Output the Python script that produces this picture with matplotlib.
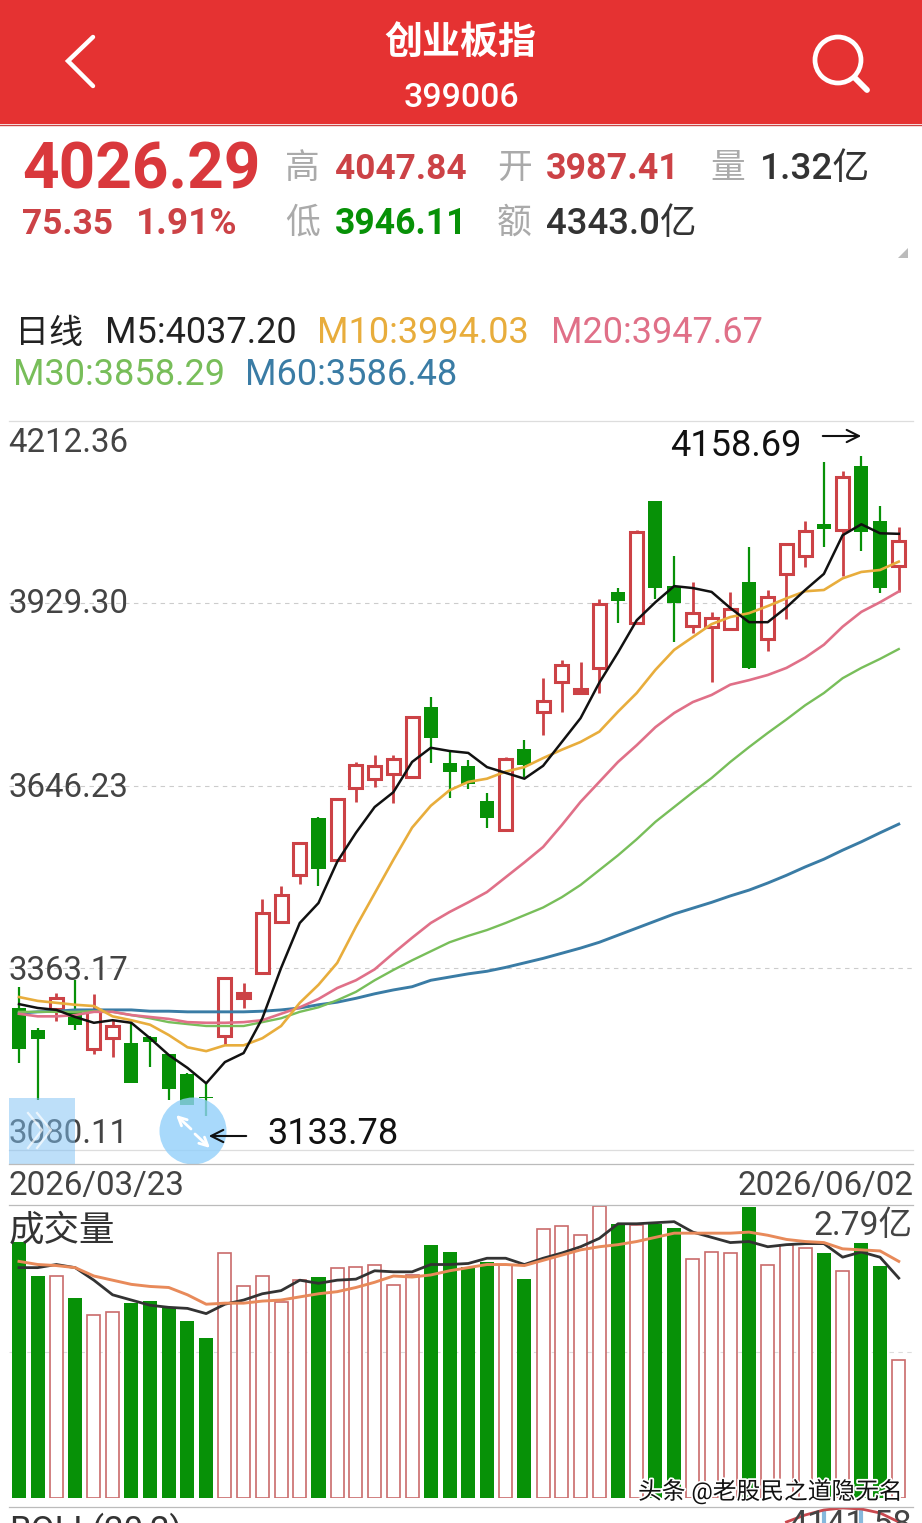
#-*- coding:utf-8
import matplotlib
matplotlib.use('Agg')
import matplotlib.pyplot as plt
from matplotlib.patches import Rectangle, Circle, Polygon
import matplotlib.patheffects as pe

plt.rcParams['font.family'] = ['Roboto', 'Noto Sans CJK SC', 'DejaVu Sans']

W, H = 922, 1523

# daily candles, 2026/03/23 .. 2026/06/02
opens = [3301.0, 3266.8, 3299.4, 3299.4, 3237.3, 3254.4, 3246.6, 3255.9, 3229.5, 3198.5, 3162.8, 3257.5,
         3316.5, 3355.3, 3434.5, 3507.5, 3596.0, 3530.8, 3642.6, 3656.5, 3664.3, 3659.6, 3768.3, 3681.4,
         3676.7, 3622.4, 3577.3, 3703.1, 3760.6, 3807.1, 3790.0, 3828.9, 3946.9, 3898.8, 4088.2, 3956.2,
         3894.1, 3892.5, 3889.4, 3962.4, 3873.9, 3974.8, 4002.8, 4052.5, 4043.2, 4142.5, 4057.1, 3987.41]
closes = [3237.3, 3252.8, 3316.5, 3274.6, 3297.9, 3273.0, 3184.5, 3248.2, 3175.2, 3150.4, 3161.2, 3347.5,
          3324.3, 3448.4, 3476.4, 3557.2, 3516.8, 3625.5, 3678.3, 3676.7, 3687.6, 3752.8, 3720.2, 3667.4,
          3648.8, 3596.0, 3687.6, 3678.3, 3777.6, 3833.5, 3796.3, 3928.3, 3932.9, 4040.0, 3953.1, 3929.8,
          3914.3, 3906.5, 3920.5, 3828.9, 3939.1, 4021.4, 4041.6, 4044.7, 4125.4, 4040.0, 3953.1, 4026.29]
highs = [3333.6, 3269.9, 3324.3, 3344.4, 3322.7, 3282.3, 3277.7, 3257.5, 3229.5, 3200.0, 3184.5, 3347.5,
         3339.8, 3470.2, 3490.4, 3558.7, 3597.5, 3627.0, 3682.9, 3693.8, 3693.8, 3752.8, 3783.9, 3698.5,
         3686.0, 3634.8, 3690.7, 3717.1, 3813.4, 3841.3, 3838.2, 3936.0, 3953.1, 4043.2, 4088.2, 4002.8,
         3962.4, 3915.8, 3946.9, 4016.8, 3950.0, 4021.4, 4057.1, 4148.7, 4134.7, 4158.69, 4080.4, 4047.84]
lows = [3215.6, 3158.1, 3280.8, 3266.8, 3229.5, 3224.9, 3184.5, 3209.4, 3158.1, 3150.4, 3133.78, 3243.5,
        3301.0, 3355.3, 3434.5, 3493.5, 3490.4, 3530.8, 3620.8, 3644.1, 3619.3, 3659.6, 3681.4, 3627.0,
        3641.0, 3580.4, 3577.3, 3659.6, 3724.9, 3760.6, 3790.0, 3790.0, 3898.8, 3898.8, 3936.0, 3869.3,
        3883.2, 3807.1, 3887.9, 3827.3, 3855.3, 3905.0, 3985.7, 4016.8, 3971.7, 4010.5, 3945.3, 3946.11]

m5 = [3307, 3301, 3298, 3287, 3278, 3282, 3278, 3254, 3228, 3208, 3184, 3217, 3231, 3285, 3363, 3433,
      3464, 3528, 3573, 3613, 3636, 3683, 3705, 3700, 3697, 3675, 3666, 3657, 3677, 3714, 3751, 3806,
      3853, 3903, 3931, 3956, 3953, 3947, 3922, 3900, 3900, 3923, 3950, 3975, 4035, 4052, 4038, 4037.2]
m10 = [3318, 3312, 3309, 3306, 3304, 3288, 3282, 3275, 3259, 3240, 3234, 3243, 3243, 3254, 3273, 3309,
       3337, 3371, 3427, 3479, 3531, 3581, 3615, 3639, 3652, 3657, 3668, 3675, 3689, 3702, 3714, 3730,
       3761, 3790, 3826, 3857, 3877, 3897, 3908, 3914, 3925, 3937, 3948, 3950, 3968, 3978, 3981, 3994.03]
m20 = [3292, 3288, 3288, 3290, 3295, 3295, 3290, 3287, 3284, 3279, 3278, 3278, 3279, 3282, 3292, 3302,
       3315, 3332, 3344, 3361, 3386, 3410, 3433, 3450, 3465, 3481, 3504, 3527, 3551, 3585, 3621, 3652,
       3683, 3709, 3737, 3759, 3776, 3787, 3803, 3810, 3818, 3829, 3845, 3865, 3893, 3916, 3931, 3947.67]
m30 = [3295, 3295, 3295, 3295, 3296, 3295, 3290, 3285, 3279, 3276, 3273, 3273, 3273, 3279, 3285, 3295,
       3302, 3313, 3326, 3344, 3360, 3375, 3389, 3403, 3413, 3422, 3433, 3445, 3457, 3473, 3492, 3515,
       3538, 3563, 3590, 3613, 3636, 3658, 3683, 3706, 3728, 3749, 3771, 3790, 3813, 3829, 3843, 3858.29]
m60 = [3293, 3295, 3296, 3298, 3298, 3298, 3298, 3296, 3296, 3295, 3295, 3295, 3295, 3296, 3298, 3301,
       3306, 3310, 3316, 3323, 3329, 3334, 3344, 3349, 3354, 3358, 3364, 3371, 3378, 3386, 3394, 3403,
       3414, 3425, 3436, 3447, 3456, 3465, 3475, 3484, 3495, 3507, 3520, 3532, 3546, 3559, 3573, 3586.48]

# volume, unit 亿
volumes = [2.45, 2.12, 2.12, 1.91, 1.75, 1.78, 1.86, 1.88, 1.82, 1.69, 1.53, 2.34, 2.02, 2.12, 1.87, 2.08,
           2.11, 2.20, 2.21, 2.23, 2.03, 2.13, 2.42, 2.35, 2.21, 2.25, 2.23, 2.09, 2.57, 2.60, 2.51, 2.79,
           2.62, 2.61, 2.62, 2.58, 2.28, 2.35, 2.34, 2.78, 2.23, 2.42, 2.39, 2.34, 2.17, 2.44, 2.22, 1.32]
vol_ma5 = [2.20, 2.20, 2.23, 2.20, 2.08, 1.94, 1.89, 1.84, 1.82, 1.81, 1.76, 1.85, 1.89, 1.95, 1.98, 2.08,
           2.05, 2.08, 2.09, 2.17, 2.16, 2.16, 2.23, 2.23, 2.24, 2.29, 2.29, 2.23, 2.29, 2.34, 2.40, 2.48,
           2.62, 2.62, 2.63, 2.64, 2.54, 2.49, 2.44, 2.45, 2.40, 2.42, 2.43, 2.43, 2.30, 2.35, 2.30, 2.10]
vol_ma10 = [2.26, 2.23, 2.22, 2.20, 2.12, 2.08, 2.04, 2.02, 2.01, 1.94, 1.85, 1.86, 1.86, 1.88, 1.89, 1.92,
            1.95, 1.97, 2.01, 2.06, 2.12, 2.11, 2.13, 2.17, 2.20, 2.23, 2.23, 2.22, 2.27, 2.32, 2.37, 2.40,
            2.42, 2.45, 2.49, 2.53, 2.53, 2.53, 2.53, 2.54, 2.51, 2.47, 2.45, 2.44, 2.38, 2.37, 2.36, 2.26]

# BOLL panel is cut off by the screenshot, only the upper band tip shows
boll_idx = [41, 42, 43, 44, 45, 46, 47]
boll_upper = [4117.6, 4128.8, 4136.8, 4140.0, 4138.4, 4132.0, 4117.6]

price_ticks = [4212.36, 3929.30, 3646.23, 3363.17, 3080.11]
price_labels = ['4212.36', '3929.30', '3646.23', '3363.17', '3080.11']
label_shift = [-22, -1, -2, -3, 16]

RED = '#CC4246'
GREEN = '#079107'
HEAD = '#E53232'
TEXTGREY = '#444444'

n = len(closes)
xs = list(range(n))
xlim = (-0.534, 47.76)

fig = plt.figure(figsize=(W / 100, H / 100), dpi=100, facecolor='white')


def px_axes(x0, y0, x1, y1, zorder=1):
    a = fig.add_axes([x0 / W, 1 - y1 / H, (x1 - x0) / W, (y1 - y0) / H], zorder=zorder)
    a.set_axis_off()
    a.patch.set_alpha(0)
    return a


########## price panel
ax = px_axes(9, 421, 913, 1165)
ax.set_xlim(xlim)
ax.set_ylim(3057.2, 4212.36)
for i, t in enumerate(price_ticks):
    if i == 0 or i == 4:
        ax.axhline(t, color='#dddddd', lw=0.9, zorder=0, clip_on=False)
    else:
        ax.axhline(t, color='#cccccc', lw=0.8, ls=(0, (4, 4)), zorder=0)
    ax.annotate(price_labels[i], (0, t), xycoords=('axes fraction', 'data'), xytext=(-1, label_shift[i]),
                textcoords='offset pixels', ha='left', va='center', fontsize=23.8, color=TEXTGREY, zorder=1)

up = [c >= o for o, c in zip(opens, closes)]
colors = [RED if u else GREEN for u in up]
wick_w = [2.0 if u else 1.6 for u in up]
ax.vlines(xs, lows, highs, colors=colors, linewidths=wick_w, zorder=2)
for i in xs:
    lo = min(opens[i], closes[i])
    hi = max(opens[i], closes[i])
    if up[i]:
        # very short red bodies close up to a solid block
        face = RED if hi - lo < 10 else 'white'
        ax.bar(i, hi - lo, bottom=lo, width=0.69, facecolor=face, edgecolor=RED, linewidth=2.2, zorder=3)
    else:
        ax.bar(i, max(hi - lo, 2.0), bottom=lo, width=0.75, color=GREEN, linewidth=0, zorder=3)

ax.plot(xs, m60, color='#3A7CA5', lw=2.1, zorder=4)
ax.plot(xs, m30, color='#78BE5A', lw=1.7, zorder=4)
ax.plot(xs, m20, color='#E07088', lw=1.9, zorder=4)
ax.plot(xs, m10, color='#E8AD3C', lw=1.9, zorder=4)
ax.plot(xs, m5, color='#111111', lw=1.8, zorder=5)

########## volume panel
vax = px_axes(9, 1206, 913, 1497.5)
vax.set_xlim(xlim)
vax.set_ylim(0, max(volumes))
vax.axhline(max(volumes) / 2, color='#dddddd', lw=0.8, ls=(0, (4, 4)), zorder=0)
for i in xs:
    if up[i]:
        vax.bar(i, volumes[i], width=0.70, facecolor='white', edgecolor='#C96B6B', linewidth=1.2, zorder=2)
    else:
        vax.bar(i, volumes[i], width=0.75, color=GREEN, linewidth=0, zorder=2)
vax.plot(xs, vol_ma5, color='#333333', lw=2.0, zorder=4)
vax.plot(xs, vol_ma10, color='#E88A5A', lw=2.1, zorder=4)

########## BOLL strip at the bottom edge
bax = px_axes(9, 1507, 913, 1523)
bax.set_xlim(xlim)
bax.set_ylim(4115.98, 4141.58)
bax.vlines([43, 45], 4115.98, 4138, colors='#86B8DC', linewidths=3, zorder=2)
bax.plot(boll_idx, boll_upper, color='#C9484E', lw=2.0, zorder=3)

########## everything drawn in screen pixels
ov = px_axes(0, 0, W, H, zorder=5)
ov.set_xlim(0, W)
ov.set_ylim(H, 0)


def put(x, y, s, size, color='#222222', ha='left', weight='normal', **kw):
    return ov.text(x, y, s, fontsize=size, color=color, ha=ha, va='baseline', fontweight=weight, **kw)


ov.add_patch(Rectangle((0, 0), W, 124, color=HEAD, lw=0))
ov.plot([0, W], [125, 125], color='#C94444', lw=1)
ov.plot([93, 68, 93], [37, 61, 86], color='white', lw=3.2, solid_capstyle='round', solid_joinstyle='miter')
ov.add_patch(Circle((838, 60), 23, fill=False, ec='white', lw=3.4))
ov.plot([855, 867], [78, 90], color='white', lw=4.2, solid_capstyle='round')
put(460, 55, '创业板指', 27.4, 'white', ha='center', weight='bold')
put(461, 107, '399006', 24.4, 'white', ha='center', weight='medium')

put(22, 188, '4026.29', 46, '#D9383C', weight='bold')
put(22, 234, '75.35', 25.4, RED, weight='bold')
put(136, 234, '1.91%', 26.6, RED, weight='bold')
put(285, 178, '高', 25, '#aaaaaa')
put(335, 179, '4047.84', 25.4, RED, weight='bold')
put(497, 178, '开', 25, '#aaaaaa')
put(546, 179, '3987.41', 25.8, RED, weight='bold')
put(710, 178, '量', 25, '#aaaaaa')
put(760, 179, '1.32亿', 26.6, '#333333', weight='medium')
put(285, 233, '低', 25, '#aaaaaa')
put(335, 234, '3946.11', 25.6, GREEN, weight='bold')
put(497, 233, '额', 25, '#aaaaaa')
put(546, 234, '4343.0亿', 26.4, '#333333', weight='medium')
ov.add_patch(Polygon([[908, 248], [908, 258], [898, 258]], color='#bbbbbb', lw=0))

put(15, 343, '日线', 24.5, '#222222')
put(105, 343, 'M5:4037.20', 26, '#222222')
put(317, 343, 'M10:3994.03', 26, '#E8AD3C')
put(551, 343, 'M20:3947.67', 26, '#E07088')
put(13, 385, 'M30:3858.29', 26, '#78BE5A')
put(245, 385, 'M60:3586.48', 26, '#3A7CA5')

ov.plot([9, 913], [1164, 1164], color='#bbbbbb', lw=0.9)
ov.plot([9, 913], [1205, 1205], color='#bbbbbb', lw=0.9)
ov.plot([9, 913], [1507, 1507], color='#bbbbbb', lw=0.9)
put(8, 1195, '2026/03/23', 23.8, TEXTGREY)
put(913, 1195, '2026/06/02', 23.8, TEXTGREY, ha='right')

ov.add_patch(Rectangle((9, 1208), 108, 34, color='white', alpha=0.55, lw=0))
put(9, 1241, '成交量', 25.6, '#333333')
put(913, 1235, '2.79亿', 24.2, TEXTGREY, ha='right')

# high / low markers
put(670, 456, '%.2f' % max(highs), 26, '#111111')
put(267, 1144, '%.2f' % min(lows), 26, '#111111')
ov.annotate('', xy=(864, 436), xytext=(820, 436), arrowprops=dict(arrowstyle='->', color='#111111', lw=1.5, mutation_scale=22))
ov.annotate('', xy=(206, 1136), xytext=(249, 1136), arrowprops=dict(arrowstyle='->', color='#111111', lw=1.5, mutation_scale=22))

# floating buttons of the app
ov.add_patch(Rectangle((9, 1098), 66, 66, color='#7CC0F5', alpha=0.5, lw=0))
for dx in (0, 9):
    ov.plot([28 + dx, 42 + dx, 28 + dx], [1113, 1130, 1148], color='white', lw=1.6, alpha=0.7)
ov.add_patch(Circle((193, 1131), 33.5, color='#92D0FA', alpha=0.8, lw=0))
ov.annotate('', xy=(176, 1115), xytext=(191, 1129), arrowprops=dict(arrowstyle='->', color='white', lw=2, mutation_scale=15, shrinkA=0, shrinkB=0))
ov.annotate('', xy=(210, 1148), xytext=(195, 1134), arrowprops=dict(arrowstyle='->', color='white', lw=2, mutation_scale=15, shrinkA=0, shrinkB=0))

# cut off texts and watermark
put(9, 1541, 'BOLL(20,2)', 25, '#333333')
put(912, 1534, '4141.58', 24.5, TEXTGREY, ha='right')
put(638, 1499, '头条 @老股民之道隐无名', 17.1, '#111111',
    path_effects=[pe.withStroke(linewidth=2.5, foreground='white')])

plt.savefig('out.png', dpi=100)
